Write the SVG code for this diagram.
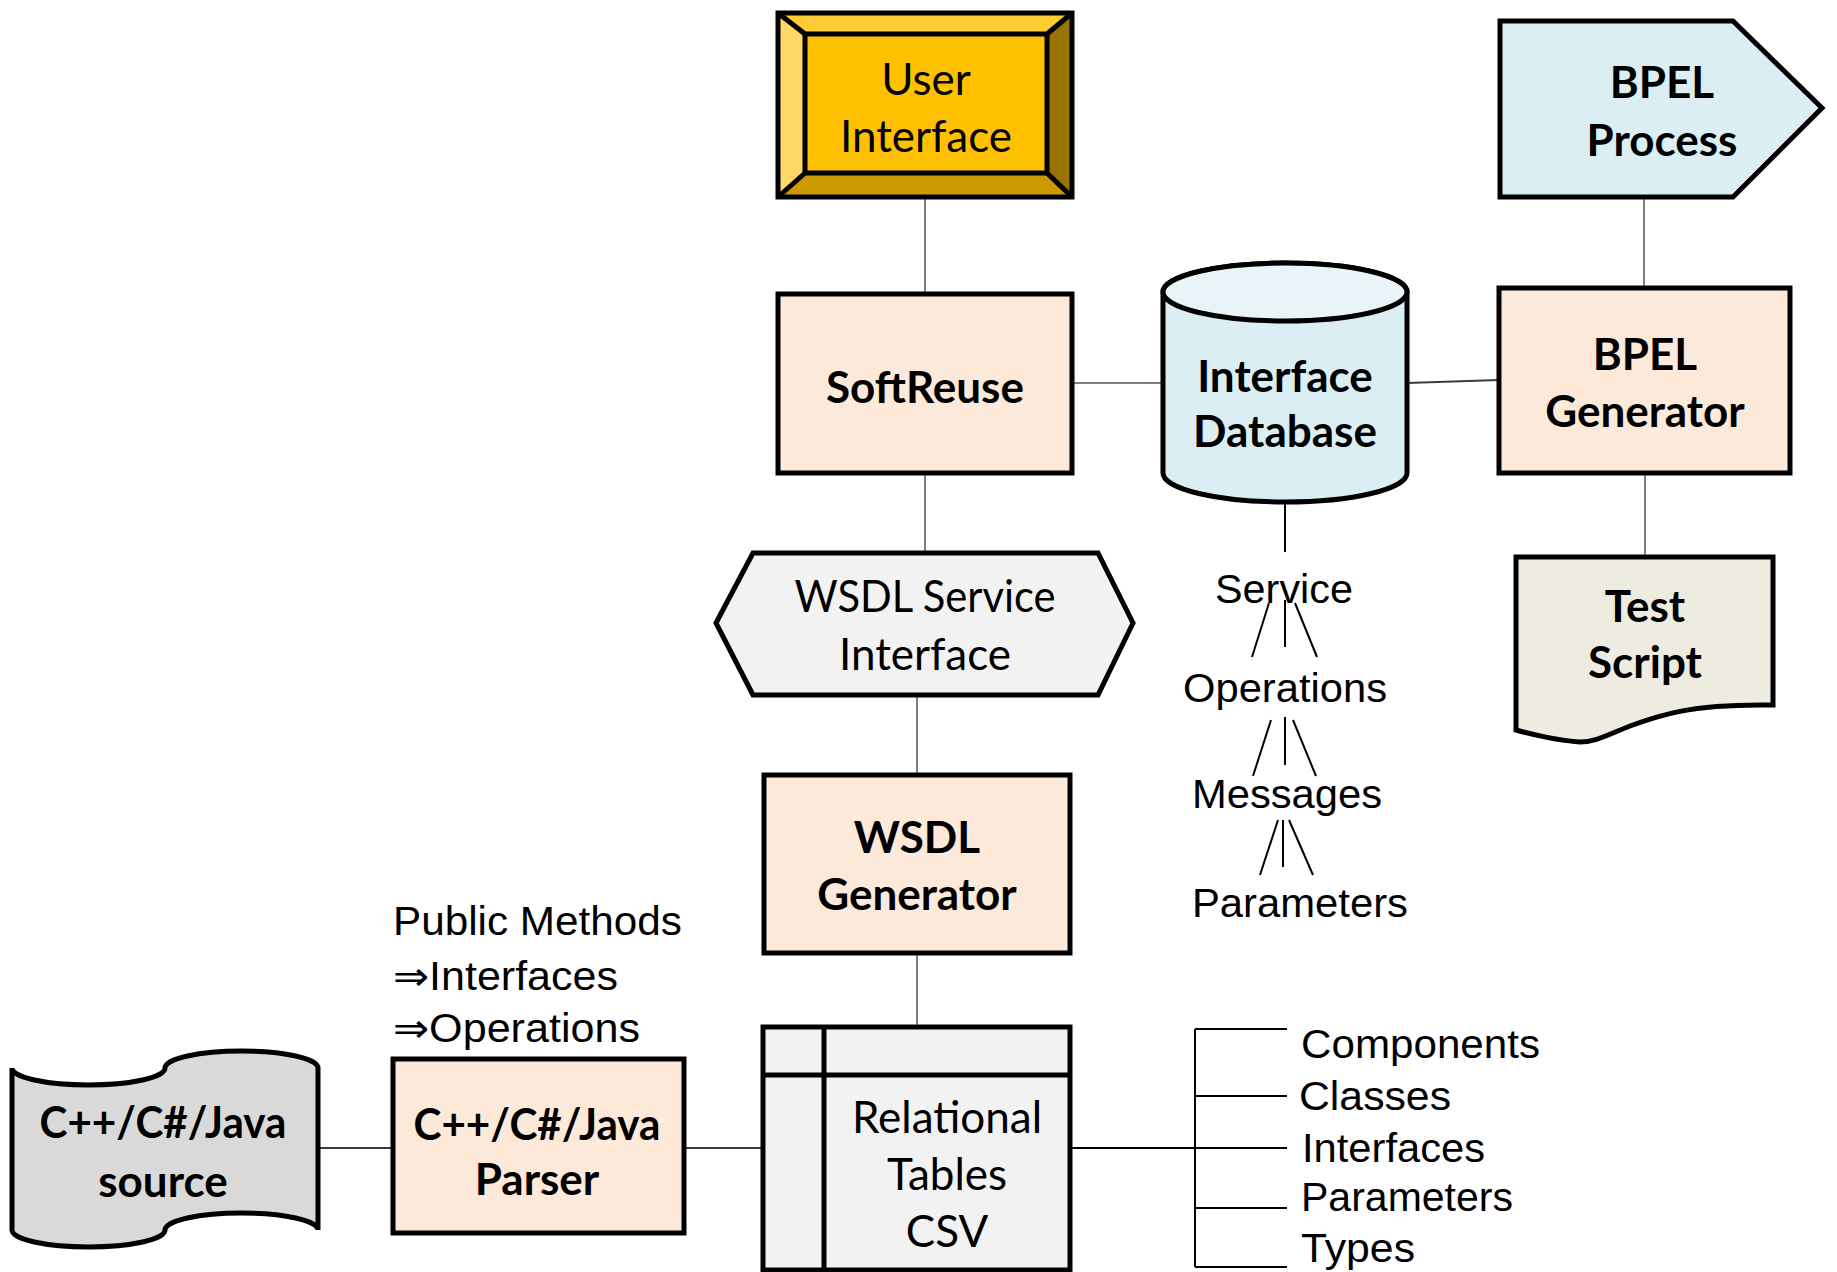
<svg xmlns="http://www.w3.org/2000/svg" width="1837" height="1272" viewBox="0 0 1837 1272">
<style>
.bg{fill:#ffffff}
.box{stroke:#000;stroke-width:5;stroke-linejoin:miter}
.peach{fill:#FDE9D9}
.blue{fill:#DAEEF3}
.grey{fill:#F2F2F2}
.conn{stroke:#7F7F7F;stroke-width:2;fill:none}
.dark{stroke:#3a3a3a;stroke-width:2;fill:none}
.tree{stroke:#000;stroke-width:2;fill:none}
.b{font-family:Lato,"Open Sans","Liberation Sans",sans-serif;font-weight:700;font-size:44px;fill:#000;text-anchor:middle}
.r{font-family:Lato,"Open Sans","Liberation Sans",sans-serif;font-weight:400;font-size:44px;fill:#000;text-anchor:middle}
.a{font-family:"Liberation Sans",Arial,"DejaVu Sans",sans-serif;font-size:40px;fill:#000}
</style>
<rect class="bg" x="0" y="0" width="1837" height="1272"/>

<g id="connectors">
  <line class="conn" x1="925" y1="197" x2="925" y2="294"/>
  <line class="conn" x1="1072" y1="383" x2="1163" y2="383"/>
  <line class="dark" x1="1407" y1="383" x2="1499" y2="380"/>
  <line class="conn" x1="1644" y1="197" x2="1644" y2="288"/>
  <line class="conn" x1="1645" y1="468" x2="1645" y2="557"/>
  <line class="conn" x1="925" y1="473" x2="925" y2="553"/>
  <line class="conn" x1="917" y1="695" x2="917" y2="775"/>
  <line class="conn" x1="917" y1="953" x2="917" y2="1027"/>
  <line class="dark" x1="318" y1="1148" x2="393" y2="1148"/>
  <line class="dark" x1="684" y1="1148" x2="763" y2="1148"/>
  <line class="tree" x1="1070" y1="1148" x2="1287" y2="1148"/>
  <line class="tree" x1="1285" y1="503" x2="1285" y2="552"/>
  <!-- service tree -->
  <line class="tree" x1="1269" y1="603" x2="1252" y2="657"/>
  <line class="tree" x1="1285" y1="600" x2="1285" y2="647"/>
  <line class="tree" x1="1295" y1="603" x2="1317" y2="657"/>
  <line class="tree" x1="1271" y1="720" x2="1253" y2="776"/>
  <line class="tree" x1="1285" y1="717" x2="1285" y2="765"/>
  <line class="tree" x1="1293" y1="720" x2="1316" y2="776"/>
  <line class="tree" x1="1278" y1="820" x2="1260" y2="875"/>
  <line class="tree" x1="1283" y1="820" x2="1283" y2="867"/>
  <line class="tree" x1="1289" y1="820" x2="1313" y2="875"/>
  <!-- component tree -->
  <line class="tree" x1="1195" y1="1029" x2="1195" y2="1267"/>
  <line class="tree" x1="1195" y1="1029" x2="1287" y2="1029"/>
  <line class="tree" x1="1195" y1="1096" x2="1287" y2="1096"/>
  <line class="tree" x1="1195" y1="1208" x2="1287" y2="1208"/>
  <line class="tree" x1="1195" y1="1267" x2="1287" y2="1267"/>
</g>

<g id="user-interface">
  <rect x="778" y="13" width="294" height="184" fill="#FFC000"/>
  <polygon points="778,13 1072,13 1047,34 805,34" fill="#FFCD33"/>
  <polygon points="778,13 805,34 805,173 778,197" fill="#FFD966"/>
  <polygon points="1072,13 1072,197 1047,173 1047,34" fill="#997300"/>
  <polygon points="778,197 805,173 1047,173 1072,197" fill="#CC9900"/>
  <g fill="none" stroke="#000" stroke-width="5">
    <rect x="778" y="13" width="294" height="184"/>
    <rect x="805" y="34" width="242" height="139"/>
    <line x1="778" y1="13" x2="805" y2="34"/>
    <line x1="1072" y1="13" x2="1047" y2="34"/>
    <line x1="778" y1="197" x2="805" y2="173"/>
    <line x1="1072" y1="197" x2="1047" y2="173"/>
  </g>
  <text class="r" x="926" y="95">User</text>
  <text class="r" x="926" y="152">Interface</text>
</g>

<g id="bpel-process">
  <polygon class="box blue" points="1500,21 1733,21 1822,108 1733,197 1500,197"/>
  <text class="b" x="1662" y="98">BPEL</text>
  <text class="b" x="1662" y="156">Process</text>
</g>

<g id="softreuse">
  <rect class="box peach" x="778" y="294" width="294" height="179"/>
  <text class="b" x="925" y="403">SoftReuse</text>
</g>

<g id="interface-database">
  <path class="box blue" d="M1163,292 L1163,473 A122,29 0 0 0 1407,473 L1407,292 A122,29 0 0 0 1163,292 Z"/>
  <ellipse class="box" cx="1285" cy="292" rx="122" ry="29" fill="#E8F4F8"/>
  <text class="b" x="1285" y="392">Interface</text>
  <text class="b" x="1285" y="447">Database</text>
</g>

<g id="bpel-generator">
  <rect class="box peach" x="1499" y="288" width="291" height="185"/>
  <text class="b" x="1645" y="370">BPEL</text>
  <text class="b" x="1645" y="427">Generator</text>
</g>

<g id="test-script">
  <path class="box" fill="#EEECE1" d="M1516,557 L1773,557 L1773,705 L1760,705 C1690,705 1660,715 1630,726 C1605,736 1595,742 1580,742 C1560,741 1530,734 1516,730 Z"/>
  <text class="b" x="1645" y="622">Test</text>
  <text class="b" x="1645" y="678">Script</text>
</g>

<g id="wsdl-service-interface">
  <polygon class="box grey" points="716,623 753,553 1098,553 1133,623 1098,695 753,695"/>
  <text class="r" x="925" y="612" textLength="261" lengthAdjust="spacingAndGlyphs">WSDL Service</text>
  <text class="r" x="925" y="670">Interface</text>
</g>

<g id="service-hierarchy">
  <text class="a" x="1284" y="603" text-anchor="middle" textLength="138" lengthAdjust="spacingAndGlyphs">Service</text>
  <text class="a" x="1285" y="702" text-anchor="middle" textLength="204" lengthAdjust="spacingAndGlyphs">Operations</text>
  <text class="a" x="1287" y="808" text-anchor="middle" textLength="190" lengthAdjust="spacingAndGlyphs">Messages</text>
  <text class="a" x="1300" y="917" text-anchor="middle" textLength="216" lengthAdjust="spacingAndGlyphs">Parameters</text>
</g>

<g id="wsdl-generator">
  <rect class="box peach" x="764" y="775" width="306" height="178"/>
  <text class="b" x="917" y="853">WSDL</text>
  <text class="b" x="917" y="910">Generator</text>
</g>

<g id="public-methods-label">
  <text class="a" x="393" y="935" textLength="289" lengthAdjust="spacingAndGlyphs">Public Methods</text>
  <text class="a" x="393" y="990" textLength="225" lengthAdjust="spacingAndGlyphs">⇒Interfaces</text>
  <text class="a" x="393" y="1042" textLength="247" lengthAdjust="spacingAndGlyphs">⇒Operations</text>
</g>

<g id="source">
  <path class="box" fill="#D9D9D9" d="M12,1068 A76.5,17 0 0 0 165,1068 A76.5,17 0 0 1 318,1068 L318,1230 A76.5,17 0 0 0 165,1230 A76.5,17 0 0 1 12,1230 Z"/>
  <text class="b" x="163" y="1138" textLength="247" lengthAdjust="spacingAndGlyphs">C++/C#/Java</text>
  <text class="b" x="163" y="1197">source</text>
</g>

<g id="parser">
  <rect class="box peach" x="393" y="1059" width="291" height="174"/>
  <text class="b" x="537" y="1140" textLength="247" lengthAdjust="spacingAndGlyphs">C++/C#/Java</text>
  <text class="b" x="537" y="1195">Parser</text>
</g>

<g id="relational-tables">
  <rect class="box grey" x="763" y="1027" width="307" height="243"/>
  <line x1="763" y1="1075" x2="1070" y2="1075" stroke="#000" stroke-width="5"/>
  <line x1="824" y1="1027" x2="824" y2="1270" stroke="#000" stroke-width="5"/>
  <text class="r" x="947" y="1133">Relational</text>
  <text class="r" x="947" y="1190">Tables</text>
  <text class="r" x="947" y="1247">CSV</text>
</g>

<g id="component-list">
  <text class="a" x="1301" y="1058" textLength="239" lengthAdjust="spacingAndGlyphs">Components</text>
  <text class="a" x="1299" y="1110" textLength="152" lengthAdjust="spacingAndGlyphs">Classes</text>
  <text class="a" x="1302" y="1162" textLength="183" lengthAdjust="spacingAndGlyphs">Interfaces</text>
  <text class="a" x="1301" y="1211" textLength="212" lengthAdjust="spacingAndGlyphs">Parameters</text>
  <text class="a" x="1301" y="1262" textLength="114" lengthAdjust="spacingAndGlyphs">Types</text>
</g>
</svg>
